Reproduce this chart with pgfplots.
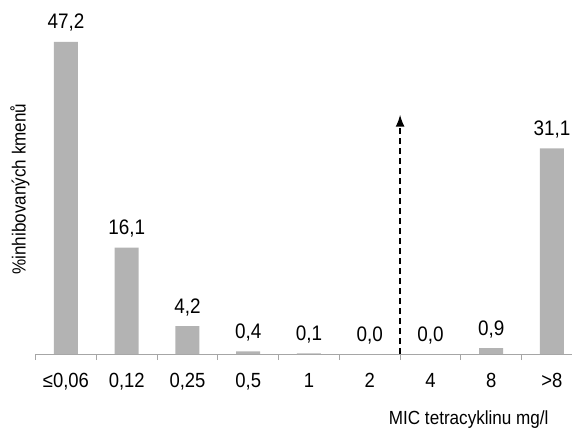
\documentclass[border=0pt]{standalone}
\usepackage{pgfplots}
\usepackage{pgfplotstable}
\pgfplotsset{compat=1.18}
\usepackage{fontspec}
\setmainfont{Liberation Sans}[FakeStretch=0.9]
\usetikzlibrary{arrows.meta}
\definecolor{bargray}{HTML}{B3B3B3}
\definecolor{axgray}{HTML}{A6A6A6}
\newcommand\lbl{\fontsize{19bp}{22bp}\selectfont}
\newcommand\num{\fontsize{21bp}{24bp}\selectfont}
\newcommand\tck{\fontsize{20.5bp}{24bp}\selectfont}

\pgfplotstableread{
x y lab
0 47.2 47,2
1 16.1 16,1
2 4.2 4,2
3 0.4 0,4
4 0.1 0,1
5 0.0 0,0
6 0.0 0,0
7 0.9 0,9
8 31.1 31,1
}\mic

\begin{document}
\begin{tikzpicture}
\begin{axis}[
  scale only axis,
  width=536.4bp, height=354bp,
  xmin=-0.5, xmax=8.33,
  ymin=0, ymax=53.55,
  axis x line*=bottom,
  axis y line=none,
  x axis line style={axgray, line width=0.8bp},
  xtick={0,...,8},
  xticklabels={{≤0,06},{0,12},{0,25},{0,5},{1},{2},{4},{8},{>8}},
  major tick length=0pt,
  minor xtick={-0.5,0.5,...,7.5},
  minor tick length=6bp,
  tick align=outside,
  minor tick style={axgray, line width=0.8bp},
  xticklabel style={font=\tck, anchor=base, yshift=-33bp},
  clip=false,
]
\addplot[ybar, bar width=0.395, fill=bargray, draw=none,
  nodes near coords, point meta=explicit symbolic,
  every node near coord/.append style={font=\num, anchor=base, yshift=13bp, inner sep=0pt}]
  table[x=x, y=y, meta=lab] {\mic};
\addplot[black, line width=1.5bp, dash pattern=on 6bp off 4bp, -{Latex[length=12bp,width=9bp]}]
  coordinates {(5.5,0) (5.5,36.2)};
\node[rotate=90, font=\lbl] at (axis cs:-0.757,24.96) {\%inhibovaných kmenů};
\node[font=\lbl] at (axis cs:6.63,-9.98) {MIC tetracyklinu mg/l};
\coordinate (bl) at (axis cs:-1.086,-11.95);
\coordinate (tr) at (axis cs:8.33,53.55);
\end{axis}
\pgfresetboundingbox
\useasboundingbox (bl) rectangle (tr);
\end{tikzpicture}
\end{document}
